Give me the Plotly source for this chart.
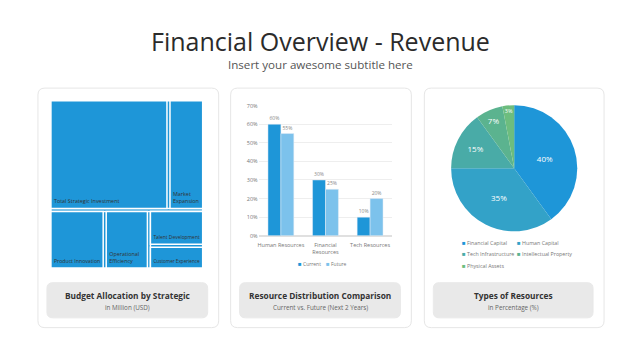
import plotly.graph_objects as go

W, H = 640, 360
FONT = "Open Sans"

# ---------------- data ----------------
# Treemap (budget allocation, million USD)
tm_ids = ["root", "grpA", "Total Strategic Investment", "Market Expansion",
          "grpB", "Product Innovation", "Operational Efficiency", "grpC",
          "Talent Development", "Customer Experience"]
tm_parents = ["", "root", "grpA", "grpA", "root", "grpB", "grpB", "grpB", "grpC", "grpC"]
tm_values = [0, 0, 1000, 300, 0, 250, 200, 0, 150, 100]
tm_text = ["", "", "Total Strategic Investment", "Market<br>Expansion", "",
           "Product Innovation", "Operational<br>Efficiency", "", "Talent Development",
           "Customer Experience"]

# Bar chart (resource distribution)
bar_categories = ["Human Resources", "Financial<br>Resources", "Tech Resources"]
bar_series = ["Current", "Future"]
bar_current = [60, 30, 10]
bar_future = [55, 25, 20]
bar_ticks = [0, 10, 20, 30, 40, 50, 60, 70]

# Pie (types of resources, %)
pie_labels = ["Financial Capital", "Human Capital", "Tech Infrastructure",
              "Intellectual Property", "Physical Assets"]
pie_values = [40, 35, 15, 7, 3]
pie_colors = ["#1E96D8", "#33A2C8", "#49ABA7", "#5BB38F", "#6DBD7E"]

BLUE = "#1E96D8"
LIGHT = "#7CC2EC"
bar_colors = [BLUE, LIGHT]

fig = go.Figure()

# ---------------- treemap ----------------
fig.add_trace(go.Treemap(
    ids=tm_ids, labels=tm_ids, parents=tm_parents, values=tm_values,
    branchvalues="remainder", sort=False,
    texttemplate=tm_text, textposition="bottom left",
    textfont=dict(family=FONT, size=5.4, color="#333"),
    marker=dict(colors=[BLUE] * len(tm_ids), line=dict(color="white", width=1.5),
                pad=dict(t=0, l=0, r=0, b=0)),
    pathbar=dict(visible=False), tiling=dict(packing="squarify", squarifyratio=1),
    domain=dict(x=[50 / W, 202 / W], y=[1 - 270 / H, 1 - 99 / H]),
    hoverinfo="skip",
))

# ---------------- bars ----------------
for name, vals, col in zip(bar_series, [bar_current, bar_future], bar_colors):
    fig.add_trace(go.Bar(
        x=bar_categories, y=vals, name=name, marker_color=col,
        text=[f"{v}%" for v in vals], textposition="outside", cliponaxis=False,
        textfont=dict(family=FONT, size=5, color="#888"),
        xaxis="x", yaxis="y", showlegend=False,
    ))

# ---------------- pie ----------------
fig.add_trace(go.Pie(
    labels=pie_labels, values=pie_values, sort=False, direction="clockwise",
    rotation=0, marker=dict(colors=pie_colors, line=dict(width=0)),
    texttemplate="%{value}%", textposition="inside", insidetextorientation="horizontal",
    textfont=dict(family=FONT, size=8, color="white"),
    domain=dict(x=[449.5 / W, 578.5 / W], y=[1 - 232.5 / H, 1 - 103.5 / H]),
    showlegend=False, hoverinfo="skip",
))

# ---------------- decoration ----------------
def rrect(x0, y0, x1, y1, r, fill, line):
    rx, ry = r / W, r / H
    X0, X1 = x0 / W, x1 / W
    Y0, Y1 = 1 - y0 / H, 1 - y1 / H  # Y0 top, Y1 bottom
    path = (f"M {X0+rx},{Y0} L {X1-rx},{Y0} Q {X1},{Y0} {X1},{Y0-ry} "
            f"L {X1},{Y1+ry} Q {X1},{Y1} {X1-rx},{Y1} L {X0+rx},{Y1} "
            f"Q {X0},{Y1} {X0},{Y1+ry} L {X0},{Y0-ry} Q {X0},{Y0} {X0+rx},{Y0} Z")
    return dict(type="path", path=path, xref="paper", yref="paper",
                fillcolor=fill, line=dict(color=line, width=1), layer="below")


def note(text, x, y, size, color, xanchor="center"):
    return dict(text=text, x=x / W, y=1 - y / H, xref="paper", yref="paper",
                xanchor=xanchor, yanchor="middle", showarrow=False, borderpad=0,
                font=dict(family=FONT, size=size, color=color))


shapes = []
cards = [(37, 218), (230, 411), (424, 604)]
for cx0, cx1 in cards:
    shapes.append(rrect(cx0, 86, cx1, 331, 7, "white", "#E6E6E6"))
    shapes.append(rrect(cx0 + 9, 285, cx1 - 11, 321, 6, "#E9E9E9", "#E9E9E9"))

annotations = [
    note("Financial Overview - Revenue", 320, 37.5, 25, "#2b2b2b"),
    note("Insert your awesome subtitle here", 320, 61.5, 11.6, "#555"),
]
card_titles = ["Budget Allocation by Strategic", "Resource Distribution Comparison", "Types of Resources"]
card_subs = ["in Million (USD)", "Current vs. Future (Next 2 Years)", "in Percentage (%)"]
for (cx0, cx1), t, s in zip(cards, card_titles, card_subs):
    cx = (cx0 + cx1 - 2) / 2
    annotations.append(note(f"<b>{t}</b>", cx, 298, 8.3, "#333"))
    annotations.append(note(s, cx, 310, 6.3, "#666"))

# bar legend
for (lx, name, col) in zip([296, 325], bar_series, bar_colors):
    annotations.append(note("■", lx, 266, 6, col, "left"))
    annotations.append(note(name, lx + 5, 266, 5, "#777", "left"))

# pie legend (two columns)
leg_x = [461, 516]
leg_y = [244.5, 256, 267.5]
for i, (lab, col) in enumerate(zip(pie_labels, pie_colors)):
    lx = leg_x[i % 2]
    ly = leg_y[i // 2]
    annotations.append(note("■", lx, ly, 6, col, "left"))
    annotations.append(note(lab, lx + 5, ly, 5.3, "#777", "left"))

fig.update_layout(
    width=W, height=H, margin=dict(l=0, r=0, t=0, b=0),
    paper_bgcolor="white", plot_bgcolor="rgba(0,0,0,0)",
    font=dict(family=FONT), showlegend=False,
    barmode="group", bargap=0.42, bargroupgap=0,
    xaxis=dict(domain=[258 / W, 392 / W], anchor="y", showline=False, ticks="",
               ticklabelstandoff=5,
               tickfont=dict(family=FONT, size=5.5, color="#777"), fixedrange=True),
    yaxis=dict(domain=[1 - 237 / H, 1 - 104 / H], anchor="x", range=[0, 70],
               tickvals=bar_ticks, ticktext=[f"{v}%" for v in bar_ticks],
               tickfont=dict(family=FONT, size=5.5, color="#777"),
               gridcolor="#EEEEEE", zeroline=True, zerolinecolor="#E0E0E0", ticks=""),
    shapes=shapes, annotations=annotations,
)

fig.write_html("out.html")
